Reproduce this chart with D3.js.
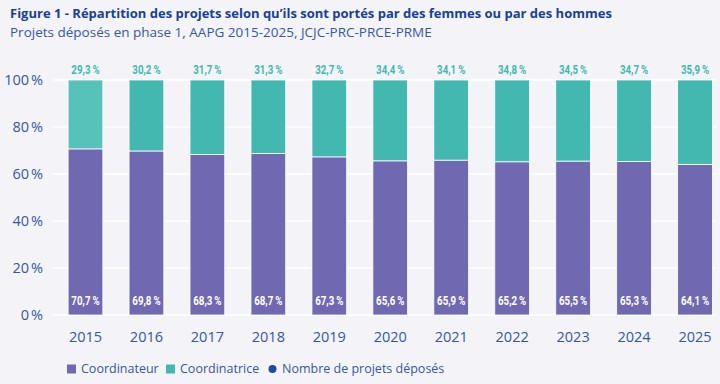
<!DOCTYPE html>
<html>
<head>
<meta charset="utf-8">
<script src="https://cdn.jsdelivr.net/npm/d3@7"></script>
<style>
	body { margin: 0; background: #f4f4f8; }
	svg { display: block; }
</style>
</head>
<body>
<div id="chart"></div>
<script>
const YEARS = ['2015', '2016', '2017', '2018', '2019', '2020', '2021', '2022', '2023', '2024', '2025'];
const COORDINATEUR = [70.7, 69.8, 68.3, 68.7, 67.3, 65.6, 65.9, 65.2, 65.5, 65.3, 64.1];
const COORDINATRICE = [29.3, 30.2, 31.7, 31.3, 32.7, 34.4, 34.1, 34.8, 34.5, 34.7, 35.9];
const Y_TICKS = [0, 20, 40, 60, 80, 100];
const LEGEND = ['Coordinateur', 'Coordinatrice', 'Nombre de projets déposés'];

const COLOR = {
	bg: '#f4f4f8',
	men: '#7069b1',
	women: '#42b8b0',
	womenFirst: '#57c2ba',
	count: '#1d4b9e',
	title: '#17409a',
	text: '#3457a8',
};

const width = 720;
const height = 384;
const font = '"Open Sans", "DejaVu Sans", sans-serif';
const narrow = 'Roboto, "DejaVu Sans", sans-serif';

const svg = d3.select('#chart')
	.append('svg')
	.attr('width', width)
	.attr('height', height);

svg.append('rect')
	.attr('width', width)
	.attr('height', height)
	.attr('fill', COLOR.bg);

// titles
svg.append('text')
	.attr('x', 10)
	.attr('y', 17.5)
	.attr('font-family', font)
	.attr('font-size', 13)
	.attr('font-weight', 700)
	.attr('fill', COLOR.title)
	.text('Figure 1 - Répartition des projets selon qu’ils sont portés par des femmes ou par des hommes');

svg.append('text')
	.attr('x', 10)
	.attr('y', 37)
	.attr('font-family', font)
	.attr('font-size', 13.5)
	.attr('fill', COLOR.text)
	.text('Projets déposés en phase 1, AAPG 2015-2025, JCJC-PRC-PRCE-PRME');

const x = d3.scaleBand()
	.domain(YEARS)
	.range([55, 725.5])
	.paddingInner(0.43)
	.paddingOuter(0.215);

const y = d3.scaleLinear()
	.domain([0, 100])
	.range([315, 80]);

// white gridlines
svg.append('g')
	.selectAll('line')
	.data(Y_TICKS)
	.join('line')
	.attr('x1', 53)
	.attr('x2', 716)
	.attr('y1', d => y(d))
	.attr('y2', d => y(d))
	.attr('stroke', '#ffffff')
	.attr('stroke-width', 1.5);

const yAxis = svg.append('g')
	.attr('transform', 'translate(46,0)')
	.call(d3.axisLeft(y).tickValues(Y_TICKS).tickSize(0).tickFormat(d => d + '\u202f%'));
yAxis.select('.domain').remove();
yAxis.selectAll('text')
	.attr('font-family', font)
	.attr('font-size', 14.5)
	.attr('fill', COLOR.text);

const xAxis = svg.append('g')
	.attr('transform', 'translate(0,329)')
	.call(d3.axisBottom(x).tickSize(0));
xAxis.select('.domain').remove();
xAxis.selectAll('text')
	.attr('font-family', font)
	.attr('font-size', 14.5)
	.attr('fill', COLOR.text);

const fmt = v => d3.format('.1f')(v).replace('.', ',') + '\u2009%';

const rows = YEARS.map((year, i) => ({year, men: COORDINATEUR[i], women: COORDINATRICE[i], i}));

const bars = svg.append('g');

bars.selectAll('rect.men')
	.data(rows)
	.join('rect')
	.attr('class', 'men')
	.attr('x', d => x(d.year))
	.attr('width', x.bandwidth())
	.attr('y', d => y(d.men))
	.attr('height', d => y(0) - y(d.men))
	.attr('fill', COLOR.men)
	.attr('stroke', '#ffffff')
	.attr('stroke-width', 0.8);

bars.selectAll('rect.women')
	.data(rows)
	.join('rect')
	.attr('class', 'women')
	.attr('x', d => x(d.year))
	.attr('width', x.bandwidth())
	.attr('y', d => y(d.men + d.women))
	.attr('height', d => y(d.men) - y(d.men + d.women))
	.attr('fill', d => d.i === 0 ? COLOR.womenFirst : COLOR.women)
	.attr('stroke', '#ffffff')
	.attr('stroke-width', 0.8);

// value labels, squeezed horizontally to mimic a condensed face
const addLabels = (cls, yPos, color, key) => {
	svg.append('g')
		.selectAll('text.' + cls)
		.data(rows)
		.join('text')
		.attr('class', cls)
		.attr('transform', d => `translate(${x(d.year) + x.bandwidth() / 2},${yPos}) scale(0.72,1)`)
		.attr('text-anchor', 'middle')
		.attr('font-family', narrow)
		.attr('font-size', 13.5)
		.attr('font-weight', 700)
		.attr('fill', color)
		.text(d => fmt(d[key]));
};
addLabels('lm', 305, '#ffffff', 'men');
addLabels('lw', 74, COLOR.women, 'women');

// legend
const legendItems = [
	{label: LEGEND[0], color: COLOR.men, shape: 'square', x: 67},
	{label: LEGEND[1], color: COLOR.women, shape: 'square', x: 166},
	{label: LEGEND[2], color: COLOR.count, shape: 'circle', x: 268},
];

const legend = svg.append('g').attr('transform', 'translate(0,369)');

legendItems.forEach(item => {
	const g = legend.append('g').attr('transform', `translate(${item.x},0)`);
	if (item.shape === 'square') {
		g.append('rect')
			.attr('x', 0)
			.attr('y', -4.5)
			.attr('width', 9)
			.attr('height', 9)
			.attr('fill', item.color);
	} else {
		g.append('circle')
			.attr('cx', 4.5)
			.attr('cy', 0)
			.attr('r', 4)
			.attr('fill', item.color);
	}
	g.append('text')
		.attr('x', 14)
		.attr('y', 0)
		.attr('dy', '0.35em')
		.attr('font-family', font)
		.attr('font-size', 12.5)
		.attr('fill', COLOR.text)
		.text(item.label);
});
</script>
</body>
</html>
